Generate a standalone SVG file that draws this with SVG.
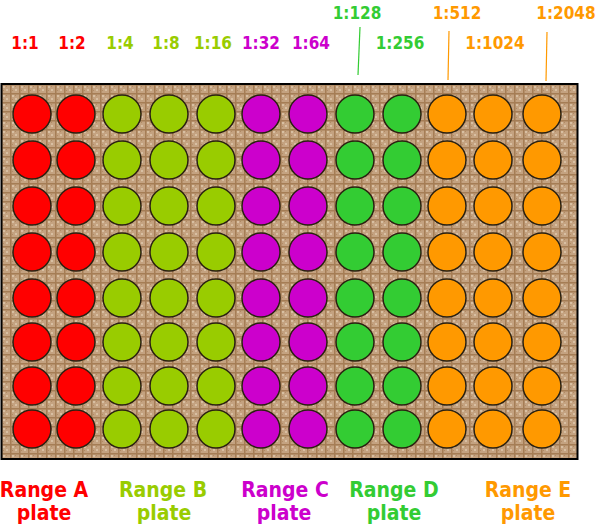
<svg xmlns="http://www.w3.org/2000/svg" width="599" height="527" viewBox="0 0 599 527">
<style>
.t{font-family:"DejaVu Sans Condensed","DejaVu Sans",sans-serif;font-weight:bold;font-stretch:condensed;text-anchor:middle}
.s{font-size:17px}
.b{font-size:21px}
.w{stroke:#2a2010;stroke-width:1.5}
.r{fill:#ff0000}.y{fill:#99cc00}.m{fill:#cc00cc}.g{fill:#33cc33}.o{fill:#ff9900}
</style>
<defs>
<pattern id="weave" width="9" height="9" patternUnits="userSpaceOnUse" x="1" y="84">
<rect width="9" height="9" fill="#c4a280"/>
<rect x="2" y="2" width="2" height="2" fill="#d8bfa2"/>
<rect x="5" y="5" width="2" height="2" fill="#d8bfa2"/>
<rect x="5" y="2" width="1" height="1" fill="#b08a63"/>
<rect x="2" y="6" width="1" height="1" fill="#b08a63"/>
<rect x="0" y="0" width="9" height="1.5" fill="#a57d55"/>
<rect x="0" y="0" width="1.5" height="9" fill="#a57d55"/>
</pattern>
<g id="col">
<circle cx="0" cy="114" r="19"/><circle cx="0" cy="160" r="19"/><circle cx="0" cy="206" r="19"/><circle cx="0" cy="252" r="19"/><circle cx="0" cy="298" r="19"/><circle cx="0" cy="342" r="19"/><circle cx="0" cy="386" r="19"/><circle cx="0" cy="429" r="19"/>
</g>
</defs>
<g id="plate">
<rect x="1.5" y="84" width="576" height="375" fill="url(#weave)" stroke="#000" stroke-width="2"/>
</g>
<g id="wells" class="w">
<use href="#col" x="32" class="r"/>
<use href="#col" x="76" class="r"/>
<use href="#col" x="122" class="y"/>
<use href="#col" x="169" class="y"/>
<use href="#col" x="216" class="y"/>
<use href="#col" x="261" class="m"/>
<use href="#col" x="308" class="m"/>
<use href="#col" x="355" class="g"/>
<use href="#col" x="402" class="g"/>
<use href="#col" x="447" class="o"/>
<use href="#col" x="493" class="o"/>
<use href="#col" x="542" class="o"/>
</g>
<g id="connectors" stroke-width="1.2">
<line x1="360" y1="27" x2="358" y2="75" stroke="#33cc33"/>
<line x1="449" y1="31" x2="448" y2="80" stroke="#ff9900"/>
<line x1="547" y1="32" x2="546" y2="81" stroke="#ff9900"/>
</g>
<g id="dilutions" class="t s">
<text x="25" y="49" fill="#ff0000">1:1</text>
<text x="72" y="49" fill="#ff0000">1:2</text>
<text x="120" y="49" fill="#99cc00">1:4</text>
<text x="166" y="49" fill="#99cc00">1:8</text>
<text x="213" y="49" fill="#99cc00">1:16</text>
<text x="261" y="49" fill="#cc00cc">1:32</text>
<text x="311" y="49" fill="#cc00cc">1:64</text>
<text x="357" y="19" fill="#33cc33">1:128</text>
<text x="400" y="49" fill="#33cc33">1:256</text>
<text x="457" y="19" fill="#ff9900">1:512</text>
<text x="495" y="49" fill="#ff9900">1:1024</text>
<text x="566" y="19" fill="#ff9900">1:2048</text>
</g>
<g id="ranges" class="t b">
<text x="44" y="497" fill="#ff0000">Range A</text><text x="44" y="520" fill="#ff0000">plate</text>
<text x="163" y="497" fill="#99cc00">Range B</text><text x="164" y="520" fill="#99cc00">plate</text>
<text x="285" y="497" fill="#cc00cc">Range C</text><text x="284" y="520" fill="#cc00cc">plate</text>
<text x="394" y="497" fill="#33cc33">Range D</text><text x="394" y="520" fill="#33cc33">plate</text>
<text x="528" y="497" fill="#ff9900">Range E</text><text x="528" y="520" fill="#ff9900">plate</text>
</g>
</svg>
